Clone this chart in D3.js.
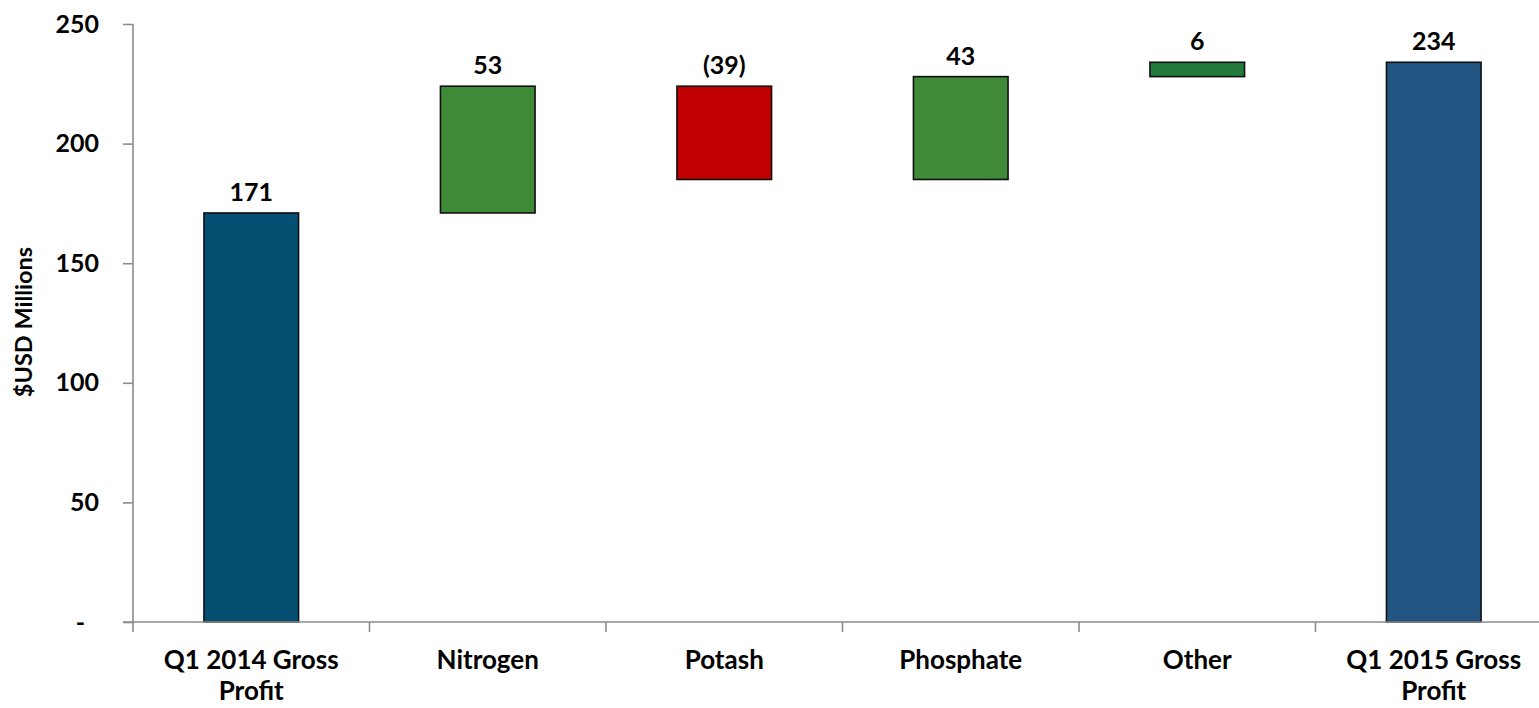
<!DOCTYPE html>
<html>
<head>
<meta charset="utf-8">
<script src="https://cdn.jsdelivr.net/npm/d3@7"></script>
<style>
  html, body { margin: 0; padding: 0; background: #ffffff; }
  svg { display: block; }
  text { font-family: Lato, "Open Sans", sans-serif; font-weight: 700; fill: #000; }
</style>
</head>
<body>
<svg id="chart" width="1539" height="708"></svg>
<script>
// Gross profit bridge, Q1 2014 to Q1 2015 ($USD millions)
const categories = ["Q1 2014 Gross|Profit", "Nitrogen", "Potash", "Phosphate", "Other", "Q1 2015 Gross|Profit"];
const changes    = [171, 53, -39, 43, 6, 234];
const kinds      = ["total", "delta", "delta", "delta", "delta", "total"];
const valueLabels = ["171", "53", "(39)", "43", "6", "234"];
const yTicks     = [0, 50, 100, 150, 200, 250];
const yTickLabels = ["-", "50", "100", "150", "200", "250"];

const fills = ["#054f72", "#3e8a37", "#c00000", "#3e8a37", "#217a3c", "#215480"];

// running totals: each step floats between its start and end level
let level = 0;
const bars = categories.map((c, i) => {
  let lo, hi;
  if (kinds[i] === "total") { lo = 0; hi = changes[i]; level = changes[i]; }
  else { const start = level; level += changes[i]; lo = Math.min(start, level); hi = Math.max(start, level); }
  return { cat: c, lo, hi, label: valueLabels[i], fill: fills[i] };
});

const svg = d3.select("#chart");
const plotLeft = 133, plotRight = 1552, plotTop = 24, plotBottom = 622;

const x = d3.scaleBand().domain(categories).range([plotLeft, plotRight]).padding(0);
const y = d3.scaleLinear().domain([0, 250]).range([plotBottom, plotTop]);
const barW = x.bandwidth() / 2.5;

// bars
svg.append("g").selectAll("rect").data(bars).join("rect")
  .attr("x", d => x(d.cat) + (x.bandwidth() - barW) / 2)
  .attr("y", d => y(d.hi))
  .attr("width", barW)
  .attr("height", d => y(d.lo) - y(d.hi))
  .attr("fill", d => d.fill)
  .attr("stroke", "#111")
  .attr("stroke-width", 1.6);

// value labels above each bar
svg.append("g").selectAll("text").data(bars).join("text")
  .attr("x", d => x(d.cat) + x.bandwidth() / 2)
  .attr("y", d => y(d.hi) - 12)
  .attr("text-anchor", "middle")
  .style("font-size", "25px")
  .text(d => d.label);

// y axis
const yAxis = svg.append("g")
  .attr("transform", `translate(${plotLeft},0)`)
  .call(d3.axisLeft(y).tickValues(yTicks).tickSize(10).tickPadding(24)
    .tickFormat((d, i) => yTickLabels[i]));
yAxis.select(".domain").attr("stroke", "#8c8c8c").attr("stroke-width", 1.6)
  .attr("d", `M0,${plotTop}V${plotBottom}`);
yAxis.selectAll(".tick line").attr("stroke", "#8c8c8c").attr("stroke-width", 1.6);
yAxis.selectAll(".tick text")
  .style("font-size", "25px").style("font-family", "Lato, 'Open Sans', sans-serif")
  .attr("fill", "#000")
  .attr("dx", d => d === 0 ? -14 : 0);

// x axis: baseline with ticks at category boundaries
const xAxis = svg.append("g");
xAxis.append("line")
  .attr("x1", plotLeft - 10).attr("x2", plotRight)
  .attr("y1", plotBottom).attr("y2", plotBottom)
  .attr("stroke", "#8c8c8c").attr("stroke-width", 1.6);
const bounds = categories.map(c => x(c)).concat([plotRight]);
xAxis.selectAll("line.tk").data(bounds).join("line").attr("class", "tk")
  .attr("x1", d => d).attr("x2", d => d)
  .attr("y1", plotBottom).attr("y2", plotBottom + 10)
  .attr("stroke", "#8c8c8c").attr("stroke-width", 1.6);

// category labels (two lines where needed)
const catText = xAxis.selectAll("text.cat").data(categories).join("text").attr("class", "cat")
  .attr("text-anchor", "middle")
  .style("font-size", "26px");
catText.each(function (c) {
  const lines = c.split("|");
  const cx = x(c) + x.bandwidth() / 2;
  d3.select(this).selectAll("tspan").data(lines).join("tspan")
    .attr("x", cx)
    .attr("y", (d, i) => 669 + i * 31)
    .text(d => d);
});

// y axis title
svg.append("text")
  .attr("transform", "translate(32,322) rotate(-90)")
  .attr("text-anchor", "middle")
  .style("font-size", "23.5px")
  .text("$USD Millions");
</script>
</body>
</html>
